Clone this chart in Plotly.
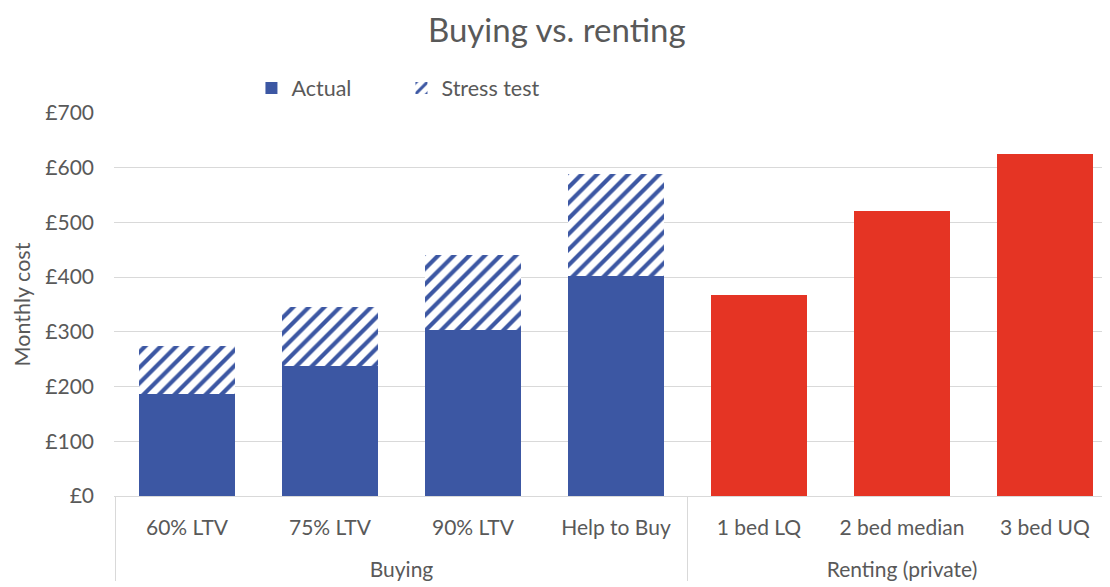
import plotly.graph_objects as go

# ---- data ----
buy_group = ["Buying", "Buying", "Buying", "Buying"]
buy_cats = ["60% LTV", "75% LTV", "90% LTV", "Help to Buy"]
actual = [187, 237, 303, 402]
stress_total = [275, 346, 441, 588]

rent_group = ["Renting (private)", "Renting (private)", "Renting (private)"]
rent_cats = ["1 bed LQ", "2 bed median", "3 bed UQ"]
rent = [367, 521, 625]

y_ticks = [0, 100, 200, 300, 400, 500, 600, 700]
y_tick_labels = ["£" + str(v) for v in y_ticks]

stress_extra = [s - a for s, a in zip(stress_total, actual)]

# group labels pushed one line lower (display only)
buy_group_lbl = ["<br>" + g for g in buy_group]
rent_group_lbl = ["<br>" + g for g in rent_group]

BLUE = "#3C57A3"
RED = "#E53424"
FONT = "Lato, 'Open Sans', sans-serif"
TXT = "#595959"
GRID = "#D9D9D9"

fig = go.Figure()
fig.add_trace(go.Bar(
    x=[buy_group_lbl, buy_cats], y=actual, name="Actual",
    marker=dict(color=BLUE, line=dict(width=0)),
))
fig.add_trace(go.Bar(
    x=[buy_group_lbl, buy_cats], y=stress_extra, name="Stress test",
    marker=dict(color="white", line=dict(width=0),
                pattern=dict(shape="/", fgcolor=BLUE, bgcolor="white",
                             size=11, solidity=0.38, fillmode="replace")),
))
fig.add_trace(go.Bar(
    x=[rent_group_lbl, rent_cats], y=rent, name="Renting",
    marker=dict(color=RED, line=dict(width=0)), showlegend=False,
))

fig.update_layout(
    width=1102, height=579,
    barmode="stack", bargap=0.33,
    paper_bgcolor="white", plot_bgcolor="white",
    margin=dict(l=106, r=0, t=105, b=91, autoexpand=False),
    font=dict(family=FONT, color=TXT, size=21),
    title=dict(text="Buying vs. renting", xref="container", x=0.498, xanchor="center",
               yref="container", y=0.961, yanchor="middle",
               font=dict(family=FONT, size=33, color=TXT)),
    legend=dict(orientation="h", x=0.138, xanchor="left", y=1.065, yanchor="middle",
                font=dict(size=21.5, color=TXT),
                entrywidth=105, entrywidthmode="pixels",
                traceorder="normal", bgcolor="rgba(0,0,0,0)"),
    showlegend=True,
)
fig.update_xaxes(
    type="multicategory",
    range=[-0.5105, 6.455],
    automargin=False,
    showline=True, linecolor=GRID, linewidth=1.3,
    showdividers=True, dividercolor=GRID, dividerwidth=1.3,
    tickfont=dict(size=21, color=TXT),
    ticklabelstandoff=13,
    showgrid=False, ticks="",
)
fig.update_yaxes(
    range=[0, 700], tickvals=y_ticks, ticktext=y_tick_labels,
    automargin=False,
    showgrid=True, gridcolor=GRID, gridwidth=1.3,
    zeroline=False, showline=False,
    tickfont=dict(size=21, color=TXT),
    ticklabelstandoff=19,
    title=dict(text="Monthly cost", font=dict(size=21.5, color=TXT), standoff=8),
)

fig.write_html("out.html")
